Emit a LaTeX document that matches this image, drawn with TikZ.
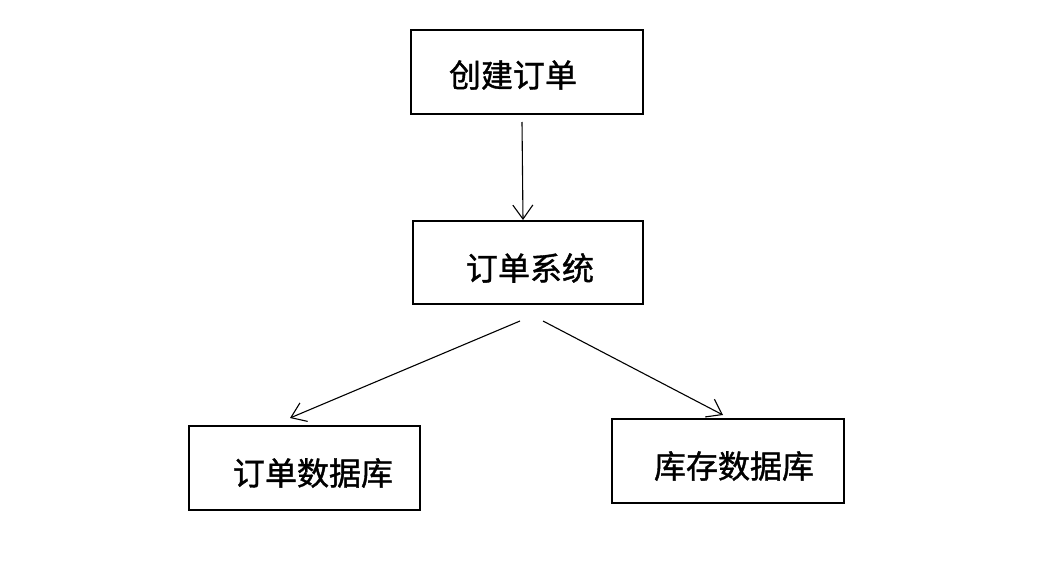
\documentclass[tikz,border=0pt]{standalone}
\usepackage{fontspec}
\newfontfamily\cjk[FakeBold=1.2]{Noto Sans CJK SC}
\usetikzlibrary{arrows.meta}
\begin{document}
\begin{tikzpicture}[x=1pt,y=-1pt,
  box/.style={draw=black,line width=1.8pt,minimum width=#1,minimum height=84pt,inner sep=0pt},
  lbl/.style={font=\cjk\fontsize{32}{38}\selectfont,inner sep=0pt,text=black},
  conn/.style={draw=black,line width=1.1pt,-{Straight Barb[length=14pt,width=20pt,line width=1.1pt]}}]
\useasboundingbox[fill=white] (0,0) rectangle (1047,586);
\node[box=232pt] (b1) at (527,72) {};
\node[box=230pt,minimum height=83pt] (b2) at (528,262.5) {};
\node[box=231pt] (b3) at (304.5,468) {};
\node[box=232pt] (b4) at (728,461) {};
\node[lbl] (t1) at (513,75) {创建订单};
\node[lbl] (t2) at (530,268) {订单系统};
\node[lbl] (t3) at (313,473) {订单数据库};
\node[lbl] (t4) at (734,466) {库存数据库};
\coordinate (s1) at (522,122);
\coordinate (e1) at (523,220);
\coordinate (s2) at (520,321);
\coordinate (e2) at (290,418);
\coordinate (s3) at (543,321);
\coordinate (e3) at (723,415);
\draw[conn] (s1) -- (e1);
\draw[conn] (s2) -- (e2);
\draw[conn] (s3) -- (e3);
\end{tikzpicture}
\end{document}
